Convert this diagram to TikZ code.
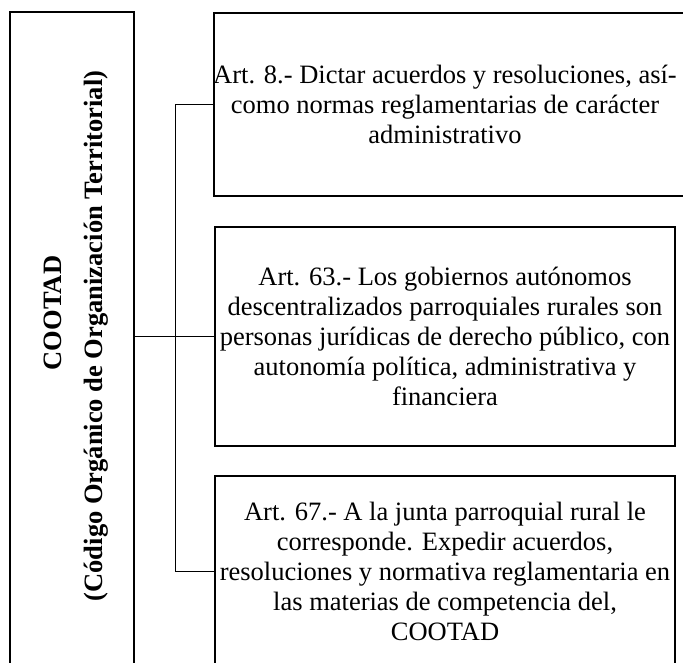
\documentclass[tikz,border=0pt]{standalone}
\usepackage{fontspec}
\setmainfont{Liberation Serif}
\usetikzlibrary{positioning}
\tikzset{
    boxline/.style = {line width=1.6pt,draw=black},
    artbox/.style = {rectangle, boxline, align=center, minimum width=460pt, inner sep=0pt, font=\fontsize{26.5}{30}\selectfont},
    cootadbox/.style = {rectangle, boxline, minimum width=124pt, minimum height=668pt},
    cootadlbl/.style = {rotate=90, align=center, font=\bfseries\fontsize{26.5}{41}\selectfont},
    edgec/.style = {line width=0.8pt,black}
}
\begin{document}
\begin{tikzpicture}[x=1pt,y=-1pt]
  \useasboundingbox (0,0) rectangle (683,662);
  \clip (0,0) rectangle (683,662);

  % left block
  \node[cootadbox] (cootad) at (72,346) {};
  \node[cootadlbl] (cootadtxt) at (76,336) {\hspace*{46pt}COOTAD\\(Código Orgánico de Organización Territorial)};

  % articles
  \node[artbox, draw=none, minimum height=181pt] (art8) at (445,104.5)
    {Art. 8.- Dictar acuerdos y resoluciones, así-\\como normas reglamentarias de carácter\\administrativo};
  \node[artbox, minimum height=219pt] (art63) at (445,336.5)
    {Art. 63.- Los gobiernos autónomos\\descentralizados parroquiales rurales son\\personas jurídicas de derecho público, con\\autonomía política, administrativa y\\financiera};
  \draw[boxline] (art8.north -| art63.west) rectangle ([xshift=40pt]art8.south east);
  \node[artbox, minimum height=190pt] (art67) at (445,571)
    {Art. 67.- A la junta parroquial rural le\\corresponde. Expedir acuerdos,\\resoluciones y normativa reglamentaria en\\las materias de competencia del,\\COOTAD};

  % connectors
  \coordinate (jbot) at (175,571);
  \draw[edgec] (art63.west |- art8.west) -| (jbot) -- (art67.west);
  \draw[edgec] (cootad.east |- art63.west) -- (art63.west);
\end{tikzpicture}
\end{document}
